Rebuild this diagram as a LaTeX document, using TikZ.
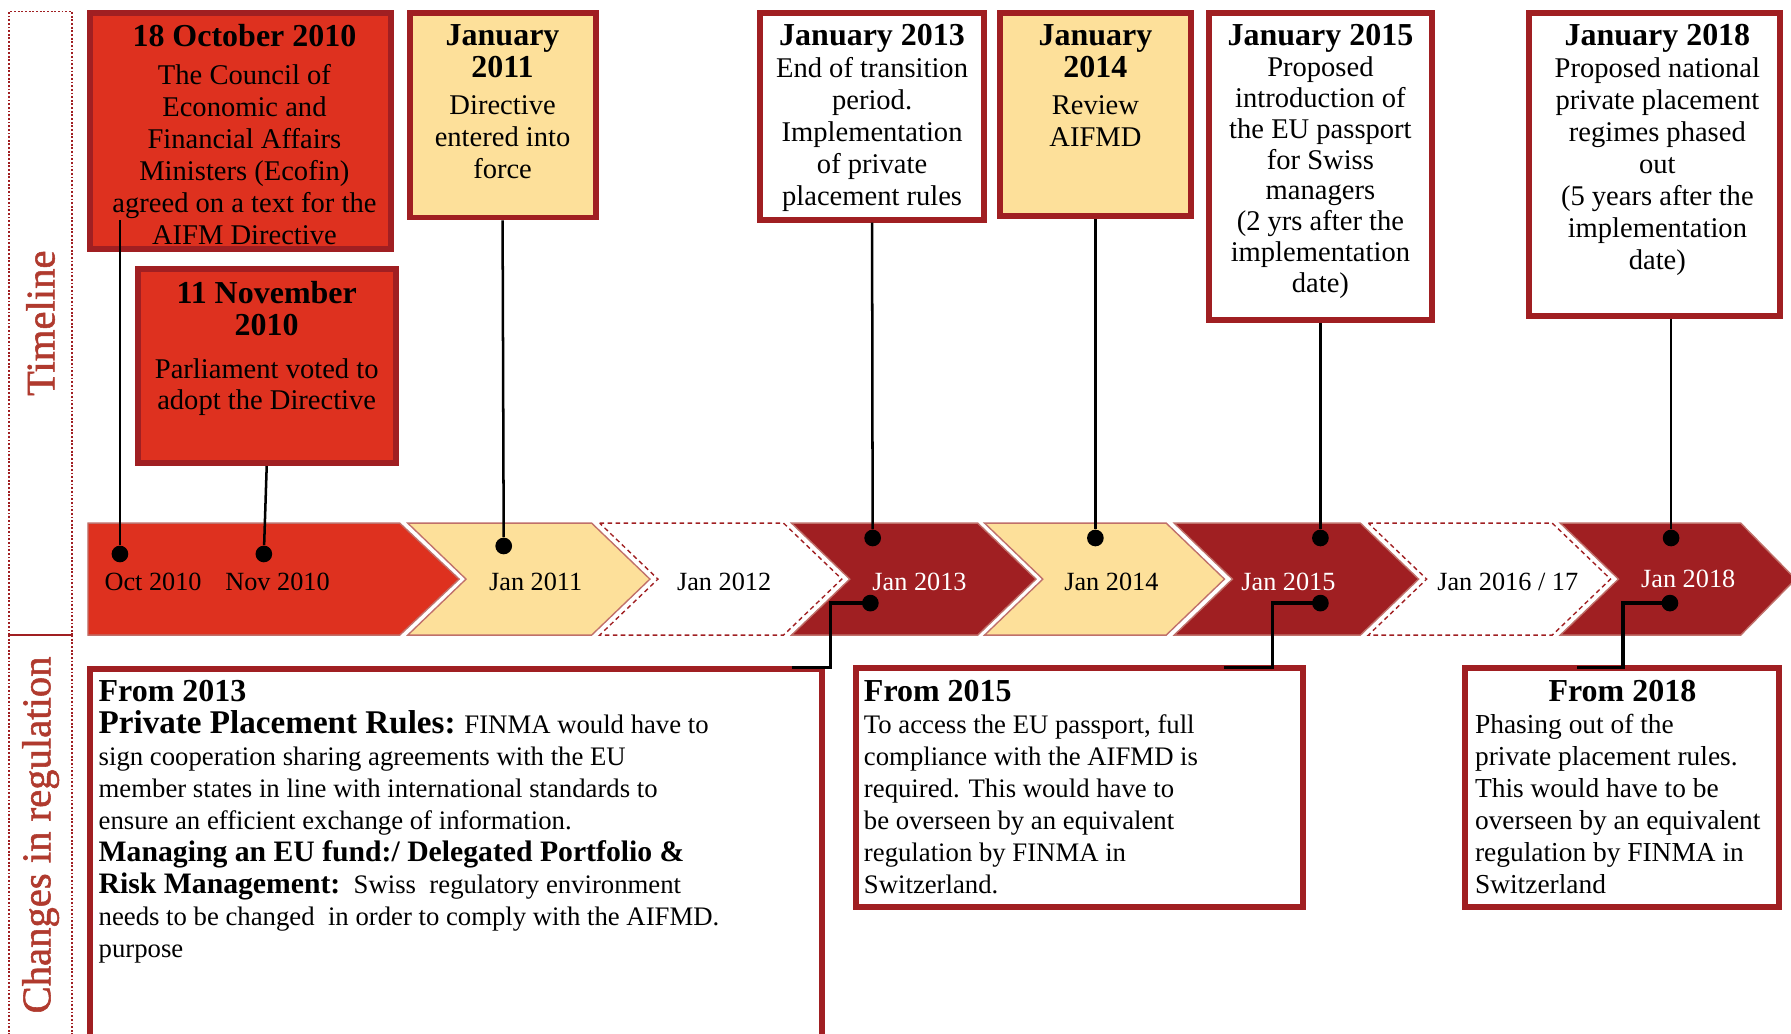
\documentclass[tikz,border=0pt]{standalone}
\usepackage{fontspec}
\setmainfont{Liberation Serif}
\newfontfamily\sidefont{Liberation Serif}[FakeBold=1.3]
\usetikzlibrary{fit,calc}
\definecolor{cred}{RGB}{222,49,31}
\definecolor{cdark}{RGB}{160,31,34}
\definecolor{cyel}{RGB}{253,224,154}
\definecolor{cedge}{RGB}{192,112,106}
\definecolor{clab}{RGB}{176,58,46}
\newcommand{\hdg}[1]{{\fontsize{14}{14}\selectfont\bfseries #1}}
\newcommand{\hdgs}[2]{{\fontsize{#1}{14}\selectfont\bfseries #2}}
\begin{document}
\begin{tikzpicture}[x=0.5pt,y=-0.5pt,
  bx/.style={draw=cdark, line width=2.6pt, inner sep=0pt, outer sep=1.3pt},
  ttxt/.style={align=center, inner sep=0pt, anchor=north, font=\fontsize{12.5}{14}\selectfont},
  btxt/.style={align=left, inner sep=0pt, anchor=north west, font=\fontsize{11.7}{14}\selectfont},
  blackdot/.style={circle, fill=black, inner sep=0pt, minimum size=7.3pt},
  conn/.style={line width=1.1pt},
  elbow/.style={line width=1.5pt},
  chev/.style={draw=cedge, line width=0.6pt},
  chevw/.style={draw=cdark, dash pattern=on 2pt off 1.5pt, line width=0.6pt, fill=white},
  lab/.style={font=\fontsize{11.5}{14}\selectfont, inner sep=0pt},
  sideframe/.style={draw=cdark, line width=0.8pt, dash pattern=on 0.8pt off 0.8pt},
  sidelab/.style={rotate=90, text=clab, font=\sidefont\fontsize{17.8}{18}\selectfont, inner sep=0pt}
]
\useasboundingbox (0,0) rectangle (1568,905);
\clip (0,0) rectangle (1568,905);
\fill[white] (0,0) rectangle (1568,905);

% side frames
\draw[sideframe] (8,556) -- (8,10) -- (63,10) -- (63,556);
\draw[sideframe] (8,556) -- (8,910);
\draw[sideframe] (63,556) -- (63,910);
\draw[cdark, line width=1pt] (8,556) -- (63,556);
\node[sidelab] (tline) at (35.5,283) {Timeline};
\node[sidelab] (creg) at (35.5,731) {Changes in regulation};

% chevrons
\path[chev, fill=cred] (77,458) -- (350,458) -- (402,507) -- (350,556) -- (77,556) -- cycle;
\path[chev, fill=cyel] (357,458) -- (518,458) -- (569,507) -- (518,556) -- (357,556) -- (408,507) -- cycle;
\path[chevw] (525,458) -- (686,458) -- (737,507) -- (686,556) -- (525,556) -- (576,507) -- cycle;
\path[chev, fill=cdark] (693,458) -- (856,458) -- (907,507) -- (856,556) -- (693,556) -- (744,507) -- cycle;
\path[chev, fill=cyel] (862,458) -- (1021,458) -- (1072,507) -- (1021,556) -- (862,556) -- (913,507) -- cycle;
\path[chev, fill=cdark] (1028,458) -- (1191,458) -- (1242,507) -- (1191,556) -- (1028,556) -- (1079,507) -- cycle;
\path[chevw] (1198,458) -- (1359,458) -- (1410,507) -- (1359,556) -- (1198,556) -- (1249,507) -- cycle;
\path[chev, fill=cdark] (1366,458) -- (1524,458) -- (1572,507) -- (1524,556) -- (1366,556) -- (1417,507) -- cycle;

% chevron labels
\node[lab] (loct) at (134,509) {Oct 2010};
\node[lab] (lnov) at (243,509) {Nov 2010};
\node[lab] (l11) at (469,509) {Jan 2011};
\node[lab] (l12) at (634,509) {Jan 2012};
\node[lab, text=white] (l13) at (805,509) {Jan 2013};
\node[lab] (l14) at (973,509) {Jan 2014};
\node[lab, text=white] (l15) at (1128,509) {Jan 2015};
\node[lab] (l16) at (1320,509) {Jan 2016 / 17};
\node[lab, text=white] (l18) at (1478,507) {Jan 2018};

% top boxes
\node[bx, fill=cred, fit={(78.6,11.6) (342.4,218.4)}] (oct) {};
\node[bx, fill=cred, fit={(120.6,235.6) (346.4,405.4)}] (nov) {};
\node[bx, fill=cyel, fit={(358.6,11.6) (521.4,190.4)}] (j11) {};
\node[bx, fill=white, fit={(665.6,11.6) (861.4,192.4)}] (j13) {};
\node[bx, fill=cyel, fit={(875.6,11.6) (1042.4,189.4)}] (j14) {};
\node[bx, fill=white, fit={(1058.6,11.6) (1253.4,280.4)}] (j15) {};
\node[bx, fill=white, fit={(1338.6,11.6) (1558.4,276.4)}] (j18) {};

\node[ttxt] (toct) at (214,21) {\hdg{18 October 2010}\\[2.4pt]The Council of\\Economic and\\Financial Affairs\\Ministers (Ecofin)\\agreed on a text for the\\AIFM Directive};
\node[ttxt] (tnov) at (233.5,245.5) {\hdg{11 November}\\\hdg{2010}\\[4.8pt]Parliament voted to\\adopt the Directive};
\node[ttxt] (t11) at (440,21) {\hdg{January}\\\hdg{2011}\\[2.4pt]Directive\\entered into\\force};
\node[ttxt] (t13) at (763.5,21) {\hdg{January 2013}\\End of transition\\period.\\Implementation\\of private\\placement rules};
\node[ttxt] (t14) at (959,21) {\hdg{January}\\\hdg{2014}\\[2.4pt]Review\\AIFMD};
\node[ttxt, font=\fontsize{12.5}{13.5}\selectfont] (t15) at (1156,21) {\hdg{January 2015}\\Proposed\\introduction of\\the EU passport\\for Swiss\\managers\\(2 yrs after the\\implementation\\date)};
\node[ttxt] (t18) at (1451,21) {\hdg{January 2018}\\Proposed national\\private placement\\regimes phased\\out\\(5 years after the\\implementation\\date)};

% bottom boxes
\node[bx, fill=white, fit={(78.6,585.6) (719.4,930)}] (f13) {};
\node[bx, fill=white, fit={(749.6,584.6) (1140.4,794.4)}] (f15) {};
\node[bx, fill=white, fit={(1282.6,584.6) (1557.4,794.4)}] (f18) {};

\node[btxt] (tf13) at (86,595) {\hdg{From 2013}\\
\hdgs{14.5}{Private Placement Rules:} FINMA would have to\\
sign cooperation sharing agreements with the EU\\
member states in line with international standards to\\
ensure an efficient exchange of information.\\
\hdgs{13}{Managing an EU fund:/ Delegated Portfolio \&}\\
\hdgs{13}{Risk Management:}\ \ Swiss\ \ regulatory environment\\
needs to be changed\ \ in order to comply with the AIFMD.\\
purpose};
\node[btxt] (tf15) at (756,595) {\hdg{From 2015}\\
To access the EU passport, full\\
compliance with the AIFMD is\\
required. This would have to\\
be overseen by an equivalent\\
regulation by FINMA in\\
Switzerland.};
\node[btxt, font=\fontsize{12}{14}\selectfont] (tf18) at (1291,595) {\makebox[129pt]{\hdg{From 2018}}\\
Phasing out of the\\
private placement rules.\\
This would have to be\\
overseen by an equivalent\\
regulation by FINMA in\\
Switzerland};

% dots
\node[blackdot] (doct) at (105,485) {};
\node[blackdot] (dnov) at (231,485) {};
\node[blackdot] (d11) at (441,478) {};
\node[blackdot] (d13t) at (764,471) {};
\node[blackdot] (d14t) at (959,471) {};
\node[blackdot] (d15t) at (1156,471) {};
\node[blackdot] (d18t) at (1463,471) {};
\node[blackdot] (d13b) at (762,528) {};
\node[blackdot] (d15b) at (1156,528) {};
\node[blackdot] (d18b) at (1462,528) {};

% connectors
\coordinate (octin) at (105,193);
\draw[conn] (octin) -- (doct);
\draw[conn] (nov.south) -- (dnov);
\draw[conn] (j11.south) -- (d11);
\draw[conn] (j13.south) -- (d13t);
\draw[conn] (j14.south) -- (d14t);
\draw[conn] (j15.south) -- (d15t);
\draw[conn] (d18t |- j18.south) -- (d18t);

\coordinate (e13) at (693,584.5);
\coordinate (e15) at (1072,584.5);
\coordinate (e18) at (1381,584.5);
\draw[elbow] (d13b.center) -- ++(-35,0) |- (e13);
\draw[elbow] (d15b.center) -- ++(-42,0) |- (e15);
\draw[elbow] (d18b.center) -- ++(-41,0) |- (e18);
\end{tikzpicture}
\end{document}
